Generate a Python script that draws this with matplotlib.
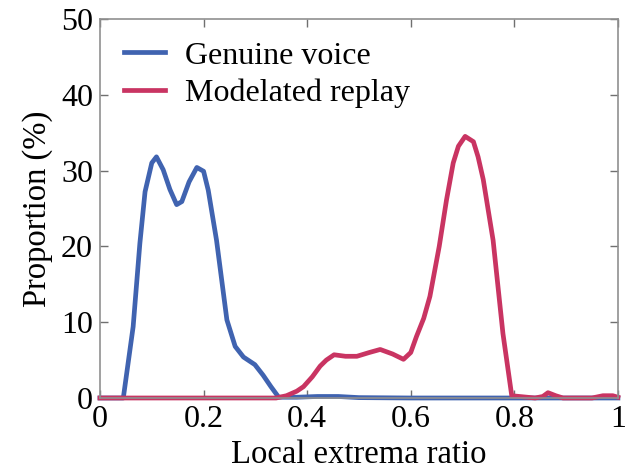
import matplotlib
matplotlib.use("Agg")
import matplotlib.pyplot as plt

# values
genuine_x = [0, 0.045, 0.064, 0.077, 0.087, 0.1, 0.109, 0.122, 0.135, 0.148, 0.158,
             0.172, 0.187, 0.2, 0.209, 0.225, 0.245, 0.261, 0.277, 0.299, 0.315,
             0.33, 0.345, 0.38, 0.42, 0.46, 0.5, 0.6, 0.8, 1.0]
genuine_y = [0, 0, 9.4, 20.4, 27.2, 31.0, 31.8, 30.1, 27.5, 25.5, 25.9,
             28.5, 30.4, 29.9, 27.4, 20.8, 10.3, 6.8, 5.4, 4.4, 3.0,
             1.5, 0.1, 0.1, 0.2, 0.2, 0.05, 0, 0, 0]

replay_x = [0, 0.34, 0.36, 0.38, 0.393, 0.41, 0.425, 0.437, 0.452, 0.474, 0.496,
            0.52, 0.541, 0.565, 0.586, 0.6, 0.611, 0.625, 0.637, 0.655, 0.669,
            0.682, 0.692, 0.705, 0.721, 0.73, 0.74, 0.759, 0.778, 0.795, 0.84,
            0.855, 0.865, 0.88, 0.894, 0.95, 0.971, 0.99, 1.0]
replay_y = [0, 0, 0.3, 0.9, 1.5, 2.8, 4.2, 5.0, 5.7, 5.5, 5.5,
            6.0, 6.4, 5.8, 5.1, 6.0, 8.1, 10.5, 13.4, 20, 26.1,
            31, 33.2, 34.5, 33.8, 31.8, 28.8, 20.8, 8.5, 0.3, 0,
            0.2, 0.7, 0.3, 0, 0, 0.3, 0.3, 0.1]

x_ticks = [0, 0.2, 0.4, 0.6, 0.8, 1]
x_labels = ["0", "0.2", "0.4", "0.6", "0.8", "1"]
y_ticks = [0, 10, 20, 30, 40, 50]

plt.rcParams['font.family'] = ['Liberation Serif', 'DejaVu Serif']

fig = plt.figure(figsize=(6.41, 4.71), dpi=100)
ax = fig.add_axes([0.156, 0.155, 0.808, 0.805])

ax.plot(genuine_x, genuine_y, color='#4063b0', lw=3.4, label='Genuine voice', clip_on=False)
ax.plot(replay_x, replay_y, color='#c93462', lw=3.4, label='Modelated replay', clip_on=False)

ax.set_xlim(0, 1)
ax.set_ylim(0, 50)
ax.set_xticks(x_ticks)
ax.set_xticklabels(x_labels)
ax.set_yticks(y_ticks)
ax.tick_params(direction='in', top=True, right=True, length=6, width=1,
               color='#707070', labelsize=23, pad=5)
for s in ax.spines.values():
    s.set_color('#909090')
    s.set_linewidth(1.2)

ax.set_xlabel('Local extrema ratio', fontsize=23.5, labelpad=4)
ax.set_ylabel('Proportion (%)', fontsize=23.5, labelpad=6)

ax.legend(loc='upper left', frameon=False, fontsize=23, handlelength=1.3,
          handletextpad=0.6, labelspacing=0.25, borderaxespad=0.3,
          bbox_to_anchor=(0.003, 1.0))

fig.savefig('out.png', dpi=100)
